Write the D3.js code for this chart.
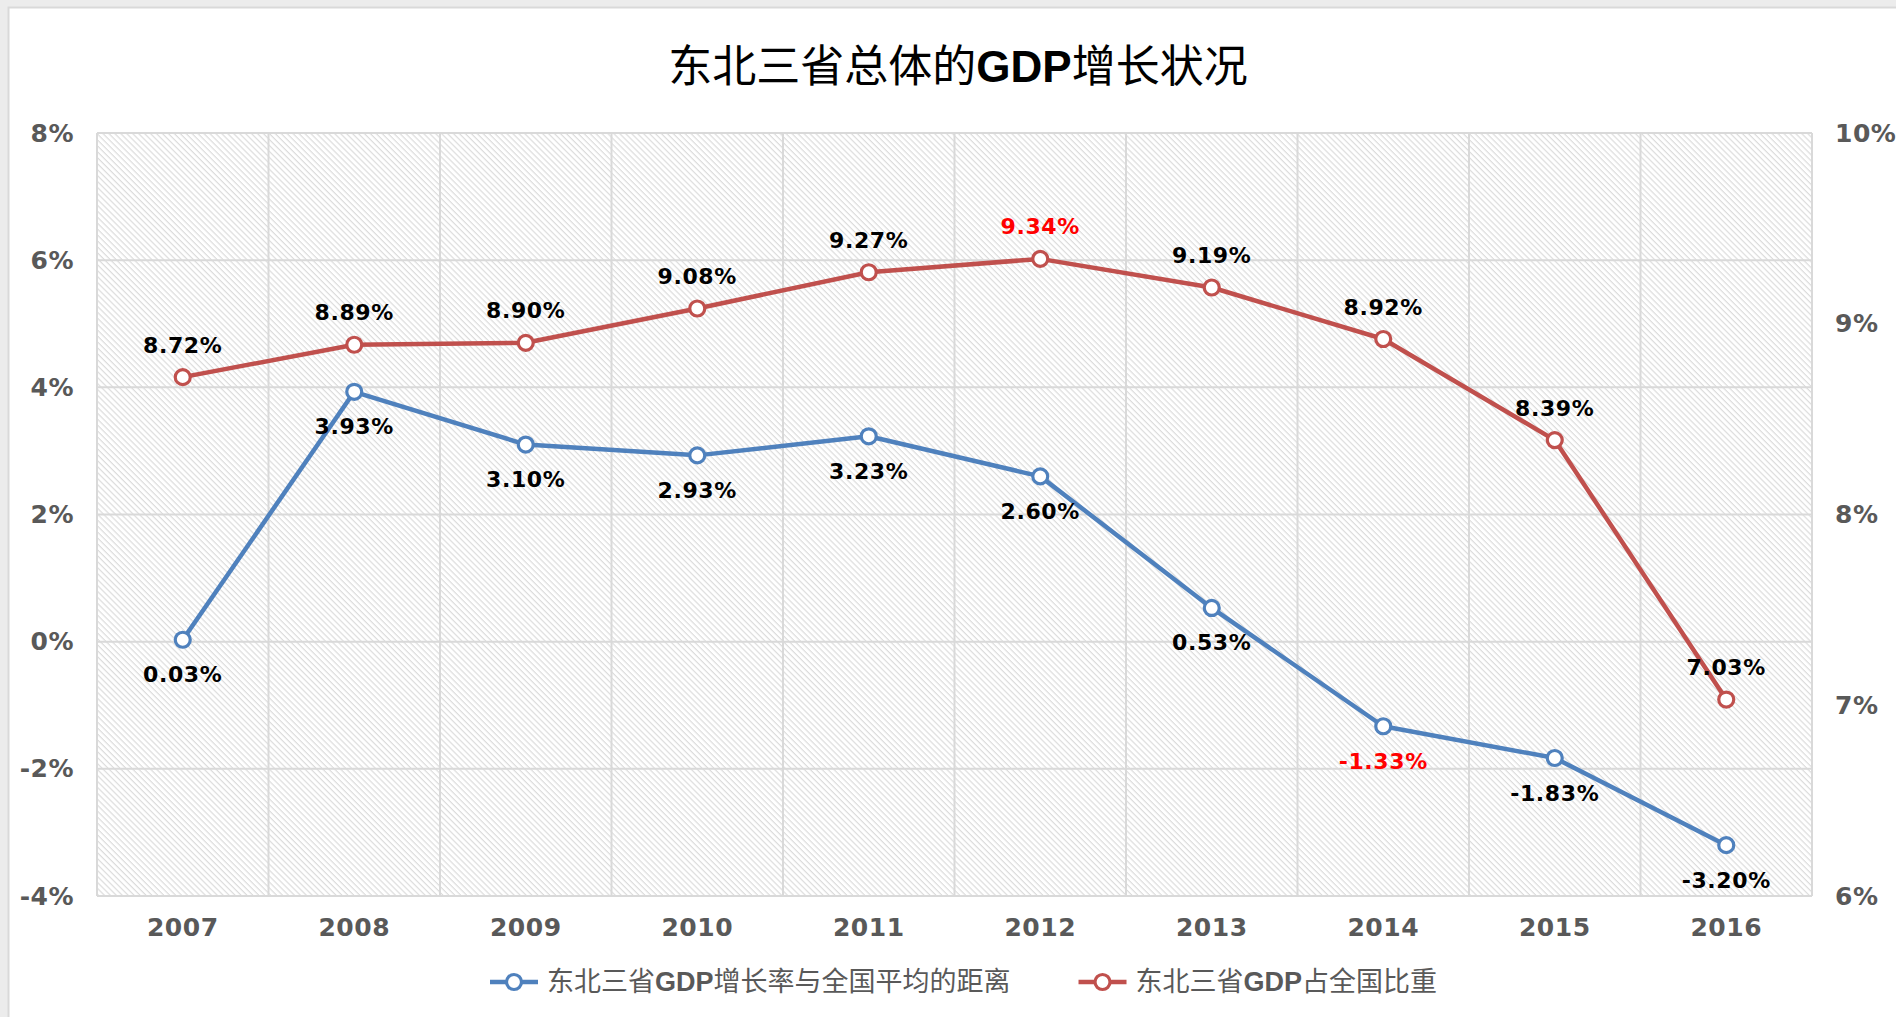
<!DOCTYPE html>
<html>
<head>
<meta charset="utf-8">
<script src="https://cdn.jsdelivr.net/npm/d3@7"></script>
<style>
  body { margin: 0; background: #ececec; }
  svg { display: block; }
</style>
</head>
<body>
<div id="chart"></div>
<script>
// data
const years = ["2007", "2008", "2009", "2010", "2011", "2012", "2013", "2014", "2015", "2016"];
const gapValues = [0.03, 3.93, 3.10, 2.93, 3.23, 2.60, 0.53, -1.33, -1.83, -3.20];   // 东北三省GDP增长率与全国平均的距离
const shareValues = [8.72, 8.89, 8.90, 9.08, 9.27, 9.34, 9.19, 8.92, 8.39, 7.03]; // 东北三省GDP占全国比重
const leftTicks = [-4, -2, 0, 2, 4, 6, 8];
const rightTicks = [6, 7, 8, 9, 10];
const gapHighlight = ["2014"];
const shareHighlight = ["2012"];
const titleParts = ["东北三省总体的", "GDP", "增长状况"];
const legendNames = ["东北三省GDP增长率与全国平均的距离", "东北三省GDP占全国比重"];

// sizes
let W = 1896, H = 1017,
    plot = {left: 97, right: 1812, top: 133, bottom: 896};
const blue = "#4f81bd", red = "#c0504d", grey = "#595959", grid = "#d9d9d9";
const numFont = "'DejaVu Sans', sans-serif",
      cjkFont = "'Liberation Sans', 'Noto Sans CJK SC', sans-serif";

let svg = d3.select("#chart").append("svg")
  .attr("width", W)
  .attr("height", H);

// hatch fill of the plot area
let defs = svg.append("defs");
defs.append("pattern")
    .attr("id", "hatch")
    .attr("patternUnits", "userSpaceOnUse")
    .attr("width", 4.2).attr("height", 4.2)
    .attr("patternTransform", "rotate(45)")
  .append("rect")
    .attr("width", 4.2).attr("height", 1.2)
    .attr("fill", "#dcdcdc");

// chart area (white card)
svg.append("rect")
  .attr("x", 8.5).attr("y", 7.5)
  .attr("width", W).attr("height", H)
  .attr("fill", "#fff")
  .attr("stroke", grid).attr("stroke-width", 2);

let x = d3.scaleBand().domain(years).range([plot.left, plot.right]);
let yL = d3.scaleLinear().domain([-4, 8]).range([plot.bottom, plot.top]);
let yR = d3.scaleLinear().domain([6, 10]).range([plot.bottom, plot.top]);
let cx = d => x(d) + x.bandwidth() / 2;

svg.append("rect")
  .attr("x", plot.left).attr("y", plot.top)
  .attr("width", plot.right - plot.left).attr("height", plot.bottom - plot.top)
  .attr("fill", "url(#hatch)");

// gridlines
svg.append("g")
  .selectAll("line")
  .data(leftTicks)
  .enter().append("line")
    .attr("x1", plot.left).attr("x2", plot.right)
    .attr("y1", d => yL(d)).attr("y2", d => yL(d))
    .attr("stroke", grid).attr("stroke-width", 2);

svg.append("g")
  .selectAll("line")
  .data(years.map(d => x(d)).concat([plot.right]))
  .enter().append("line")
    .attr("x1", d => d).attr("x2", d => d)
    .attr("y1", plot.top).attr("y2", plot.bottom)
    .attr("stroke", grid).attr("stroke-width", 2);

// axes
function styleAxis(g) {
  g.select(".domain").remove();
  g.selectAll("text")
    .attr("fill", grey)
    .style("font-family", numFont)
    .style("font-weight", "bold")
    .style("font-size", "25px")
    .style("letter-spacing", "0.5px");
}

svg.append("g")
  .attr("transform", "translate(" + plot.left + ",0)")
  .call(d3.axisLeft(yL).tickValues(leftTicks).tickFormat(d => d + "%").tickSize(0).tickPadding(23))
  .call(styleAxis);

svg.append("g")
  .attr("transform", "translate(" + plot.right + ",0)")
  .call(d3.axisRight(yR).tickValues(rightTicks).tickFormat(d => d + "%").tickSize(0).tickPadding(23))
  .call(styleAxis);

svg.append("g")
  .attr("transform", "translate(0," + plot.bottom + ")")
  .call(d3.axisBottom(x).tickSize(0).tickPadding(22))
  .call(styleAxis);

// series
function drawSeries(values, y, color, highlight, offset) {
  let pts = years.map((d, i) => ({year: d, v: values[i]}));
  let line = d3.line().x(d => cx(d.year)).y(d => y(d.v));
  svg.append("path")
    .datum(pts)
    .attr("d", line)
    .attr("fill", "none")
    .attr("stroke", color)
    .attr("stroke-width", 4.5)
    .attr("stroke-linejoin", "round");
  svg.append("g")
    .selectAll("circle")
    .data(pts)
    .enter().append("circle")
      .attr("cx", d => cx(d.year)).attr("cy", d => y(d.v))
      .attr("r", 7.5)
      .attr("fill", "#fff")
      .attr("stroke", color)
      .attr("stroke-width", 3.2);
  svg.append("g")
    .selectAll("text")
    .data(pts)
    .enter().append("text")
      .attr("x", d => cx(d.year)).attr("y", d => y(d.v) + offset)
      .attr("text-anchor", "middle")
      .attr("dominant-baseline", "central")
      .attr("fill", d => highlight.includes(d.year) ? "#ff0000" : "#000")
      .style("font-family", numFont)
      .style("font-weight", "bold")
      .style("font-size", "22px")
      .style("letter-spacing", "0.6px")
      .text(d => d.v.toFixed(2) + "%");
}

drawSeries(shareValues, yR, red, shareHighlight, -32);
drawSeries(gapValues, yL, blue, gapHighlight, 35);

// title
let title = svg.append("text")
  .attr("x", 958).attr("y", 66)
  .attr("text-anchor", "middle")
  .attr("dominant-baseline", "central")
  .attr("fill", "#000")
  .style("font-family", cjkFont)
  .style("font-size", "44px");
title.selectAll("tspan")
  .data(titleParts)
  .enter().append("tspan")
    .style("font-weight", d => d === "GDP" ? "bold" : "normal")
    .text(d => d);

// legend
let lx = 490, ly = 982;
[[legendNames[0], blue], [legendNames[1], red]].forEach(function(item) {
  let g = svg.append("g").attr("transform", "translate(" + lx + "," + ly + ")");
  g.append("line").attr("x1", 0).attr("x2", 48).attr("stroke", item[1]).attr("stroke-width", 4.5);
  g.append("circle").attr("cx", 24).attr("r", 7.5).attr("fill", "#fff").attr("stroke", item[1]).attr("stroke-width", 3.2);
  let t = g.append("text")
    .attr("x", 57)
    .attr("dominant-baseline", "central")
    .attr("fill", grey)
    .style("font-family", cjkFont)
    .style("font-size", "27px");
  t.selectAll("tspan")
    .data(item[0].split(/(GDP)/))
    .enter().append("tspan")
      .style("font-weight", d => d === "GDP" ? "bold" : "normal")
      .text(d => d);
  lx += 57 + t.node().getComputedTextLength() + 68;
});
</script>
</body>
</html>
